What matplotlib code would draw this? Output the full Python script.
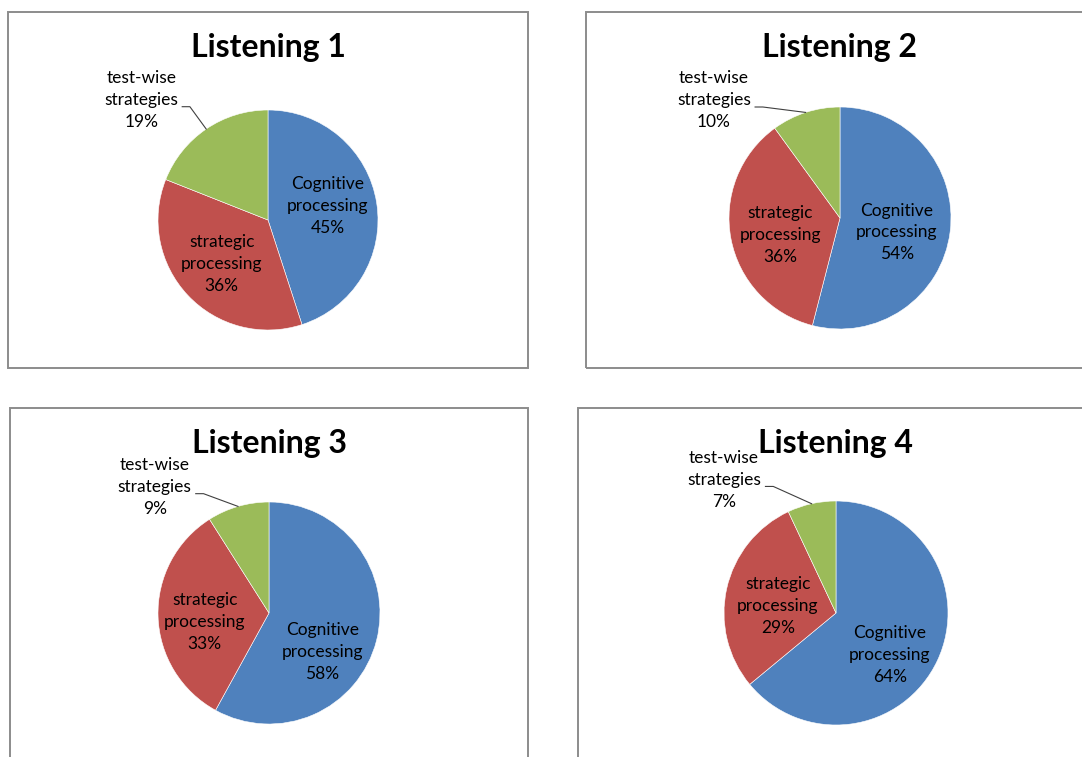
import matplotlib
matplotlib.use("Agg")
import matplotlib.pyplot as plt
from matplotlib.patches import Rectangle
import numpy as np

# ── data ──
titles = ["Listening 1", "Listening 2", "Listening 3", "Listening 4"]
categories = ["Cognitive\nprocessing", "strategic\nprocessing", "test-wise\nstrategies"]
cognitive = [45, 54, 58, 64]
strategic = [36, 36, 33, 29]
testwise = [19, 10, 9, 7]

COLORS = ["#4F81BD", "#C0504D", "#9BBB59"]
FONT = ["Lato", "DejaVu Sans"]

W, H = 1082, 757

# layout (pixels): panel box, pie centre, radius
boxes = [(8, 12, 520, 356), (586, 12, 520, 356), (10, 408, 518, 380), (578, 408, 520, 380)]
centres = [(268, 220), (840, 218), (269, 613), (836, 613)]
radius = [110, 111, 111, 112]
# inner label positions, in units of radius (Cognitive, strategic)
inner_pos = [[(0.54, 0.13), (-0.42, -0.40)],
             [(0.51, -0.13), (-0.54, -0.15)],
             [(0.48, -0.35), (-0.58, -0.08)],
             [(0.48, -0.375), (-0.52, 0.06)]]
# outside label for the small slice, in units of radius
outer_pos = [(-1.15, 1.09), (-1.135, 1.06), (-1.03, 1.135), (-1.0, 1.19)]

fig = plt.figure(figsize=(W / 100, H / 100), dpi=100)
fig.patch.set_facecolor("white")

for i in range(4):
    bx, by, bw, bh = boxes[i]
    fig.patches.append(Rectangle((bx / W, 1 - (by + bh) / H), bw / W, bh / H,
                                 transform=fig.transFigure, fill=False,
                                 edgecolor="#8c8c8c", linewidth=1.4))

    cx, cy = centres[i]
    R = radius[i]
    ax = fig.add_axes([(cx - R) / W, 1 - (cy + R) / H, 2 * R / W, 2 * R / H])
    ax.axis("off")

    vals = [cognitive[i], strategic[i], testwise[i]]
    ax.pie(vals, colors=COLORS, startangle=90, counterclock=False, radius=1,
           wedgeprops=dict(edgecolor="white", linewidth=0.4))
    ax.set_xlim(-1, 1)
    ax.set_ylim(-1, 1)

    # inner labels
    for j in range(2):
        px, py = inner_pos[i][j]
        ax.text(px, py, f"{categories[j]}\n{vals[j]}%", ha="center", va="center",
                fontsize=12.5, family=FONT, color="black", linespacing=1.45)

    # outside label + leader line to the middle of the small slice
    mid = 90 - 360 * (sum(vals[:2]) + vals[2] / 2) / 100
    ex, ey = np.cos(np.radians(mid)), np.sin(np.radians(mid))
    ox, oy = outer_pos[i]
    ax.text(ox, oy, f"{categories[2]}\n{vals[2]}%", ha="center", va="center",
            fontsize=12.5, family=FONT, color="black", linespacing=1.45,
            clip_on=False)
    lx = ox + 0.37
    ly = oy - 0.06
    ax.plot([lx, lx + 0.07, ex], [ly, ly, ey], color="#404040", linewidth=0.8,
            clip_on=False)

    # title sits a fixed distance below the top of its box
    fig.text(cx / W, 1 - (by + 36) / H, titles[i], ha="center", va="center",
             fontsize=23, fontweight="bold", family=FONT, color="black")

fig.savefig("out.png", dpi=100, facecolor="white")
